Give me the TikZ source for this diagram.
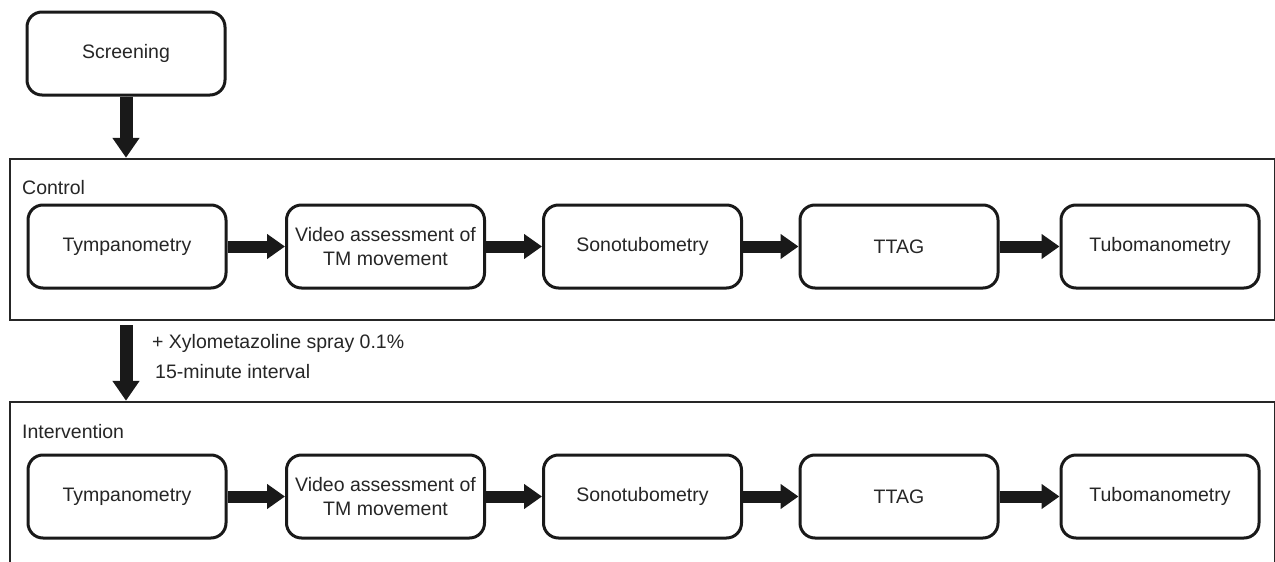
\documentclass[tikz,border=0pt]{standalone}
\usepackage{fontspec}
\setmainfont{Liberation Sans}
\usetikzlibrary{arrows.meta}
\begin{document}
\begin{tikzpicture}[x=1pt,y=-1pt,
 box/.style={draw=black!90, line width=3pt, rounded corners=15pt, minimum width=198pt, minimum height=83pt, inner sep=0pt, align=center, font=\fontsize{19.5}{24}\selectfont, text=black!85},
 frame/.style={draw=black!85, line width=2.5pt, inner sep=0pt},
 harrow/.style={line width=12pt, -{Triangle[length=18pt,width=24pt]}, draw=black!90, fill=black!90},
 varrow/.style={line width=13pt, -{Triangle[length=20pt,width=26pt]}, draw=black!90, fill=black!90},
 lbl/.style={font=\fontsize{19.5}{24}\selectfont, inner sep=0pt, anchor=west, text=black!85}
]
\clip (0,0) rectangle (1275,562);
\fill[white] (0,0) rectangle (1275,562);
% frames
\node[frame, minimum width=1265.5pt, minimum height=161pt] (ctrl) at (642.75,239.5) {};
\node[frame, minimum width=1265.5pt, minimum height=163pt] (intv) at (642.75,483.5) {};
% screening
\node[box] (scr) at (126,53.5) {Screening};
% labels
\node[lbl] (lc) at (22,188) {Control};
\node[lbl] (li) at (22,432) {Intervention};
\node[lbl] (lx) at (152,343) {+ Xylometazoline spray 0.1\%};
\node[lbl] (lm) at (155,372) {15-minute interval};
% control row
\node[box] (c1) at (127,246.5) {Tympanometry};
\node[box] (c2) at (385.5,246.5) {Video assessment of\\TM movement};
\node[box] (c3) at (642.5,246.5) {Sonotubometry};
\node[box] (c4) at (899,246.5) {TTAG};
\node[box] (c5) at (1160,246.5) {Tubomanometry};
% intervention row
\node[box] (i1) at (127,496.5) {Tympanometry};
\node[box] (i2) at (385.5,496.5) {Video assessment of\\TM movement};
\node[box] (i3) at (642.5,496.5) {Sonotubometry};
\node[box] (i4) at (899,496.5) {TTAG};
\node[box] (i5) at (1160,496.5) {Tubomanometry};
% arrows
\draw[varrow] (scr.south) -- (scr.south |- ctrl.north);
\draw[varrow, shorten <=4pt] (scr.south |- ctrl.south) -- (scr.south |- intv.north);
\foreach \a/\b in {c1/c2,c2/c3,c3/c4,c4/c5,i1/i2,i2/i3,i3/i4,i4/i5}
  \draw[harrow] (\a.east) -- (\b.west);
\end{tikzpicture}
\end{document}
